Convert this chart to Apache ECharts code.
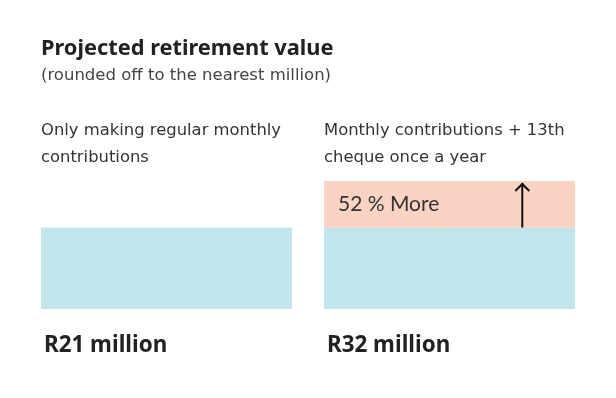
<!DOCTYPE html>
<html>
<head>
<meta charset="utf-8">
<script src="https://cdn.jsdelivr.net/npm/echarts@6/dist/echarts.min.js"></script>
<style>
html,body{margin:0;padding:0;background:#fff}
#chart{width:616px;height:398px}
</style>
</head>
<body>
<div id="chart"></div>
<script>
// data
var categories = ['Only making regular monthly\ncontributions', 'Monthly contributions + 13th\ncheque once a year'];
var baseValues = [21, 21];
var extraValues = [null, 12];
var totalLabels = ['R21 million', 'R32 million'];
var extraLabel = '52 % More';

var font = 'Noto Sans';
var bodyFont = 'DejaVu Sans';
var barW = 251;

var chart = echarts.init(document.getElementById('chart'));

var option = {
    animation: false,
    title: {
        text: 'Projected retirement value',
        subtext: '(rounded off to the nearest million)',
        left: 36,
        top: 33,
        itemGap: 7,
        textStyle: {fontFamily: font, fontSize: 21.8, fontWeight: 'bold', color: '#222'},
        subtextStyle: {fontFamily: bodyFont, fontSize: 16.5, color: '#444'}
    },
    grid: {left: 25, right: 25, top: 181, bottom: 89},
    xAxis: [{
        type: 'category',
        data: categories,
        axisLine: {show: false},
        axisTick: {show: false},
        axisLabel: {
            margin: 25,
            width: barW,
            formatter: function (v, i) { return '{a|' + totalLabels[i] + '}'; },
            rich: {a: {align: 'left', padding: [0, 0, 0, 3], fontFamily: font, fontSize: 22.4, fontWeight: 'bold', color: '#222', lineHeight: 24}}
        }
    }, {
        type: 'category',
        position: 'top',
        data: categories,
        axisLine: {show: false},
        axisTick: {show: false},
        axisLabel: {
            margin: 10,
            width: barW,
            formatter: function (v) {
                return v.split('\n').map(function (s) { return '{a|' + s + '}'; }).join('\n');
            },
            rich: {a: {align: 'left', fontFamily: bodyFont, fontSize: 16.4, color: '#333', lineHeight: 27}}
        }
    }],
    yAxis: {type: 'value', min: 0, max: 33, show: false},
    series: [{
        type: 'bar',
        stack: 'total',
        data: baseValues,
        barWidth: barW,
        itemStyle: {color: '#c1e5ea'}
    }, {
        type: 'bar',
        stack: 'total',
        data: extraValues,
        barWidth: barW,
        itemStyle: {color: '#fbd3c2'},
        label: {
            show: true,
            position: 'insideLeft',
            distance: 14,
            formatter: extraLabel,
            fontFamily: 'Lato',
            fontSize: 21,
            color: '#333'
        }
    }]
};
chart.setOption(option);

// arrow inside the extra part of the second bar
var bottomPt = chart.convertToPixel({xAxisIndex: 0, yAxisIndex: 0}, [1, baseValues[1]]);
var topPt = chart.convertToPixel({xAxisIndex: 0, yAxisIndex: 0}, [1, baseValues[1] + extraValues[1]]);
var ax = bottomPt[0] + barW * 0.29;
var ay = topPt[1] + 2;
chart.setOption({
    graphic: [{
        type: 'group',
        z: 100,
        children: [{
            type: 'line',
            z: 100,
            shape: {x1: ax, y1: bottomPt[1], x2: ax, y2: ay},
            style: {stroke: '#111', lineWidth: 2}
        }, {
            type: 'polyline',
            z: 100,
            shape: {points: [[ax - 7, ay + 8], [ax, ay + 1], [ax + 7, ay + 8]]},
            style: {stroke: '#111', lineWidth: 2, fill: null}
        }]
    }]
});
</script>
</body>
</html>
